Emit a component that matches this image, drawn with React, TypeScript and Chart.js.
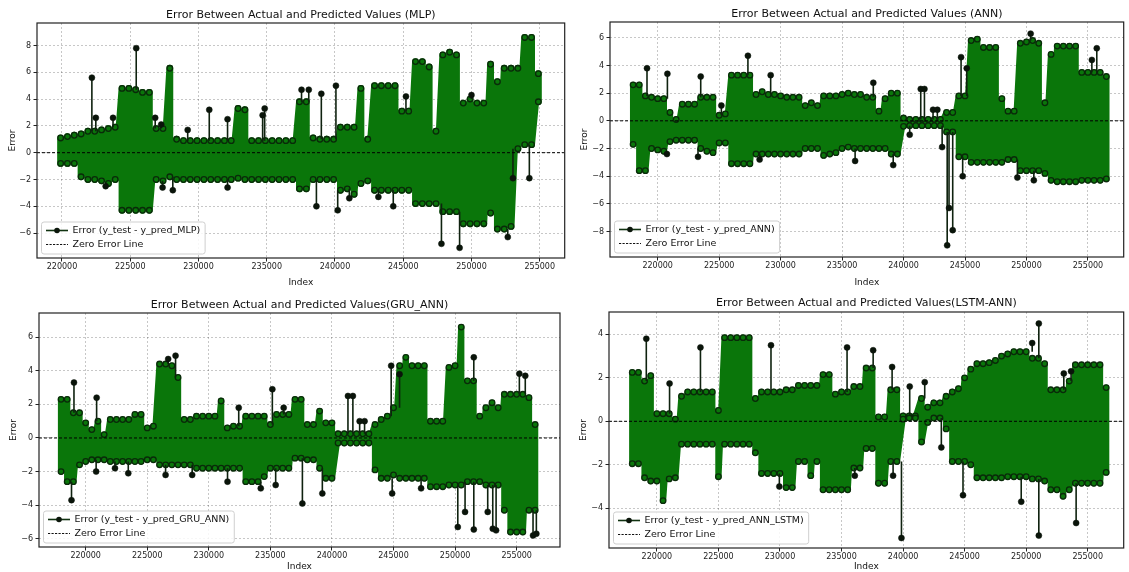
import React, { useEffect, useRef } from 'react';
import { Chart, registerables } from 'chart.js';

Chart.register(...registerables);

const FONT = "'DejaVu Sans', 'Liberation Sans', Arial, sans-serif";

// ---------- tick labels ----------
const X_TICKS = [220000, 225000, 230000, 235000, 240000, 245000, 250000, 255000];
const MLP_Y_TICKS = [-6, -4, -2, 0, 2, 4, 6, 8];
const ANN_Y_TICKS = [-8, -6, -4, -2, 0, 2, 4, 6];
const GRU_Y_TICKS = [-6, -4, -2, 0, 2, 4, 6];
const LSTM_Y_TICKS = [-4, -2, 0, 2, 4];

// index spacing between the sampled columns of every series
const COLUMN_STEP = 500;

// ---------- MLP (columns from index 219900) ----------
const MLP_START = 219900;
const MLP_HI = [
  1.1, 1.2, 1.3, 1.4, 1.6, 1.6, 1.7, 1.8, 1.9, 4.8,
  4.8, 4.7, 4.5, 4.5, 1.8, 1.8, 6.3, 1.0, 0.9, 0.9,
  0.9, 0.9, 0.9, 0.9, 0.9, 0.9, 3.3, 3.2, 0.9, 0.9,
  0.9, 0.9, 0.9, 0.9, 0.9, 3.8, 3.8, 1.1, 1.0, 1.0,
  1.0, 1.9, 1.9, 1.9, 4.8, 1.0, 5.0, 5.0, 5.0, 5.0,
  3.1, 3.1, 6.8, 6.8, 6.4, 1.6, 7.3, 7.5, 7.3, 3.7,
  4.0, 3.7, 3.7, 6.6, 5.3, 6.3, 6.3, 6.3, 8.6, 8.6, 5.9,
];
const MLP_LO = [
  -0.8, -0.8, -0.8, -1.8, -2.0, -2.0, -2.1, -2.3, -2.0, -4.3,
  -4.3, -4.3, -4.3, -4.3, -2.0, -2.1, -1.8, -2.0, -2.0, -2.0,
  -2.0, -2.0, -2.0, -2.0, -2.0, -2.0, -1.9, -2.0, -2.0, -2.0,
  -2.0, -2.0, -2.0, -2.0, -2.0, -2.7, -2.7, -2.0, -2.0, -2.0,
  -2.0, -2.8, -2.7, -3.1, -2.3, -2.1, -2.8, -2.8, -2.8, -2.8,
  -2.8, -2.8, -3.8, -3.8, -3.8, -3.8, -4.4, -4.4, -4.4, -5.3,
  -5.3, -5.3, -5.3, -4.5, -5.7, -5.7, -5.5, 0.3, 0.6, 0.6, 3.8,
];
const MLP_SPIKE_IDX = [222190, 222480, 223200, 223740, 225440, 226830, 227270, 227370, 228120, 229210, 230790, 232130, 232130, 234700, 234850, 237550, 238080, 238640, 239000, 240070, 240200, 241050, 243180, 244270, 245200, 247800, 249130, 250000, 252660, 253040, 254240];
const MLP_SPIKE_BASE = [1.6, 1.6, -2.2, 1.9, 4.7, 1.8, 1.8, -2.1, -1.8, 0.9, 0.9, 0.9, -2.0, 0.9, 0.9, 3.8, 3.8, -2.0, 1.0, 1.0, -2.8, -2.7, -2.8, -2.8, 3.1, -3.8, -4.4, 4.0, -5.7, 0.3, 0.6];
const MLP_SPIKE_TIP = [5.6, 2.6, -2.5, 2.6, 7.8, 2.6, 2.1, -2.6, -2.8, 1.7, 3.2, 2.5, -2.6, 2.8, 3.3, 4.7, 4.7, -4.0, 4.4, 5.0, -4.3, -3.4, -3.3, -4.0, 4.2, -6.8, -7.1, 4.3, -6.3, -1.9, -1.9];

// ---------- ANN (columns from index 218000) ----------
const ANN_START = 218000;
const ANN_HI = [
  2.6, 2.6, 1.8, 1.7, 1.6, 1.6, 0.6, 0.1, 1.2, 1.2,
  1.2, 1.7, 1.7, 1.7, 0.4, 0.5, 3.3, 3.3, 3.3, 3.3,
  1.9, 2.1, 1.9, 1.9, 1.8, 1.7, 1.7, 1.7, 1.1, 1.3,
  1.1, 1.8, 1.8, 1.8, 1.9, 2.0, 1.9, 1.9, 1.7, 1.7,
  0.7, 1.6, 2.0, 2.0, 0.2, 0.1, 0.1, 0.1, 0.1, 0.1,
  0.1, 0.6, 0.6, 1.8, 1.8, 5.8, 5.9, 5.3, 5.3, 5.3,
  1.6, 0.7, 0.7, 5.6, 5.7, 5.8, 5.6, 1.3, 4.8, 5.4,
  5.4, 5.4, 5.4, 3.5, 3.5, 3.5, 3.5, 3.2,
];
const ANN_LO = [
  -1.7, -3.6, -3.6, -2.0, -2.1, -2.2, -1.5, -1.4, -1.4, -1.4,
  -1.4, -2.0, -2.2, -2.3, -1.6, -1.6, -3.1, -3.1, -3.1, -3.1,
  -2.4, -2.4, -2.4, -2.4, -2.4, -2.4, -2.4, -2.4, -2.0, -2.0,
  -2.0, -2.5, -2.4, -2.3, -2.0, -1.9, -2.0, -2.0, -2.0, -2.0,
  -2.0, -2.0, -2.4, -2.4, -0.4, -0.35, -0.35, -0.35, -0.35, -0.35,
  -0.35, -0.8, -0.8, -2.6, -2.6, -3.0, -3.0, -3.0, -3.0, -3.0,
  -3.0, -2.8, -2.8, -3.6, -3.6, -3.6, -3.6, -3.8, -4.3, -4.4,
  -4.4, -4.4, -4.4, -4.3, -4.3, -4.3, -4.3, -4.2,
];
const ANN_SPIKE_IDX = [219130, 220750, 220790, 223280, 223500, 225180, 227340, 228290, 229190, 236060, 237540, 239160, 240500, 241400, 241700, 242400, 242750, 243140, 243550, 243700, 244000, 244680, 244810, 245140, 249260, 250340, 250600, 255320, 255720];
const ANN_SPIKE_BASE = [1.8, -2.2, 1.6, -2.0, 1.7, 0.4, 3.3, -2.4, 1.9, -2.0, 1.7, -2.4, -0.35, 0.1, 0.1, 0.1, 0.1, -0.35, -0.8, -0.8, -0.8, 1.8, -2.6, 1.8, -2.8, 5.8, -3.6, 3.5, 3.5];
const ANN_SPIKE_TIP = [3.8, -2.4, 3.4, -2.6, 3.2, 1.1, 4.7, -2.8, 3.3, -2.9, 2.75, -3.2, -1.0, 2.3, 2.3, 0.8, 0.8, -1.9, -9.0, -6.3, -7.9, 4.6, -4.0, 3.8, -4.1, 6.3, -4.3, 4.4, 5.24];

// ---------- GRU_ANN (columns from index 218000) ----------
const GRU_START = 218000;
const GRU_HI = [
  2.3, 2.3, 1.5, 1.5, 0.9, 0.5, 1.0, 0.2, 1.1, 1.1,
  1.1, 1.1, 1.4, 1.4, 0.6, 0.7, 4.4, 4.4, 4.3, 3.6,
  1.1, 1.1, 1.3, 1.3, 1.3, 1.3, 2.2, 0.6, 0.7, 0.7,
  1.3, 1.3, 1.3, 1.3, 0.8, 1.4, 1.4, 1.4, 2.3, 2.3,
  0.8, 0.8, 1.6, 0.9, 0.9, 0.25, 0.25, 0.25, 0.25, 0.25,
  0.25, 0.8, 1.1, 1.3, 1.8, 4.3, 4.8, 4.3, 4.3, 4.3,
  1.0, 1.0, 1.0, 4.2, 4.3, 6.6, 3.4, 3.4, 1.3, 1.8,
  2.1, 1.8, 2.6, 2.6, 2.6, 2.6, 2.4, 0.8,
];
const GRU_LO = [
  -2.0, -2.6, -2.6, -1.6, -1.4, -1.3, -1.3, -1.3, -1.4, -1.4,
  -1.4, -1.4, -1.4, -1.4, -1.3, -1.3, -1.6, -1.6, -1.6, -1.6,
  -1.6, -1.6, -1.8, -1.8, -1.8, -1.8, -1.8, -1.8, -1.8, -1.8,
  -2.6, -2.6, -2.6, -2.3, -1.8, -1.8, -1.8, -1.8, -1.2, -1.2,
  -1.3, -1.3, -1.8, -2.4, -2.4, -0.3, -0.3, -0.3, -0.3, -0.3,
  -0.3, -1.9, -2.4, -2.4, -2.2, -2.4, -2.4, -2.4, -2.4, -2.4,
  -2.9, -2.9, -2.9, -2.8, -2.8, -2.8, -2.6, -2.6, -2.6, -2.8,
  -2.8, -2.8, -4.3, -5.6, -5.6, -5.6, -4.3, -4.3,
];
const GRU_SPIKE_IDX = [218850, 219050, 220850, 220890, 222380, 223460, 226490, 226700, 227300, 228650, 231520, 232430, 234220, 235160, 235430, 236080, 237600, 239220, 241300, 241700, 242250, 242650, 244810, 244890, 245490, 247240, 250220, 250810, 251520, 251520, 252650, 253060, 253330, 255220, 255700, 256330, 256600];
const GRU_SPIKE_BASE = [-2.6, 1.5, -1.3, 1.0, -1.4, -1.4, -1.6, 4.4, 3.6, -1.6, -1.8, 0.7, -2.6, 0.8, -1.8, 1.4, -1.2, -1.8, 0.25, 0.25, 0.25, 0.25, 1.3, -2.4, 1.8, -2.4, -2.8, -2.6, 3.4, -2.6, -2.8, -2.8, -2.8, 2.6, 2.6, -4.3, -4.3];
const GRU_SPIKE_TIP = [-3.7, 3.3, -2.0, 2.4, -1.8, -2.1, -2.2, 4.7, 4.9, -2.2, -2.6, 1.8, -3.0, 2.9, -2.8, 1.8, -3.9, -3.3, 2.5, 2.5, 1.0, 1.0, 4.3, -3.3, 3.8, -3.0, -5.3, -4.4, 4.8, -5.45, -4.4, -5.4, -5.5, 3.83, 3.7, -5.8, -5.7];

// ---------- LSTM-ANN (columns from index 218000) ----------
const LSTM_START = 218000;
const LSTM_HI = [
  2.25, 2.25, 1.85, 2.1, 0.35, 0.35, 0.35, 0.1, 1.15, 1.35,
  1.35, 1.35, 1.35, 1.35, 0.5, 3.85, 3.85, 3.85, 3.85, 3.85,
  1.05, 1.35, 1.35, 1.35, 1.35, 1.45, 1.45, 1.65, 1.65, 1.65,
  1.65, 2.15, 2.15, 1.25, 1.35, 1.35, 1.6, 1.6, 2.45, 2.45,
  0.2, 0.2, 1.45, 1.45, 0.25, 0.25, 0.25, 1.05, 0.65, 0.85,
  0.85, 1.15, 1.35, 1.5, 2.0, 2.4, 2.65, 2.65, 2.7, 2.8,
  3.0, 3.1, 3.2, 3.2, 3.2, 2.9, 2.9, 2.65, 1.45, 1.45,
  1.45, 1.85, 2.6, 2.6, 2.6, 2.6, 2.6, 1.55,
];
const LSTM_LO = [
  -1.95, -1.95, -2.6, -2.75, -2.75, -3.65, -2.65, -2.6, -1.05, -1.05,
  -1.05, -1.05, -1.05, -1.05, -2.55, -1.05, -1.05, -1.05, -1.05, -1.05,
  -1.45, -2.4, -2.4, -2.4, -2.4, -3.05, -3.05, -1.85, -1.85, -2.5,
  -1.85, -3.15, -3.15, -3.15, -3.15, -3.15, -2.15, -2.15, -1.25, -1.25,
  -2.85, -2.85, -1.85, -1.85, 0.1, 0.15, 0.15, -0.95, -0.05, 0.15,
  0.15, -0.35, -1.85, -1.85, -1.85, -2.0, -2.6, -2.6, -2.6, -2.6,
  -2.6, -2.55, -2.55, -2.55, -2.55, -2.65, -2.65, -2.75, -3.15, -3.15,
  -3.45, -3.15, -2.85, -2.85, -2.85, -2.85, -2.85, -2.35,
];
const LSTM_SPIKE_IDX = [219140, 221030, 223540, 229270, 229950, 235450, 236080, 237570, 239110, 239190, 239870, 240540, 241760, 243110, 244870, 249600, 250490, 251030, 251030, 253060, 253650, 254060];
const LSTM_SPIKE_BASE = [1.85, 0.35, 1.35, 1.35, -2.4, 1.35, -2.15, 2.45, 1.45, -1.85, -1.85, 0.25, 1.05, 0.15, -1.85, -2.55, 3.2, 2.9, -2.65, 1.45, 1.85, -2.85];
const LSTM_SPIKE_TIP = [3.8, 1.74, 3.4, 3.5, -3.0, 3.4, -2.5, 3.27, 2.5, -2.5, -5.37, 1.6, 1.8, -1.2, -3.4, -3.7, 3.6, 4.5, -5.26, 2.2, 2.3, -4.68];

// ---------- styles ----------
const BAND_GREEN = '#0a760a';
const BAND_EDGE = 'rgba(10,36,10,0.92)';
const SPIKE_LINE = '#0f220f';
const SPIKE_MARK = '#0a140a';

type Box = { l: number; t: number; r: number; b: number };
type Panel = {
  title: string;
  legendLabel: string;
  start: number;
  hi: number[];
  lo: number[];
  spikeIdx: number[];
  spikeBase: number[];
  spikeTip: number[];
  yTicks: number[];
  xMin: number;
  xMax: number;
  yMin: number;
  yMax: number;
  canvas: { left: number; top: number; w: number; h: number };
  plot: Box;
  titleY: number;
  xTitleY: number;
  yTitleX: number;
  lineW: number;
};

const PANELS: Panel[] = [
  {
    title: 'Error Between Actual and Predicted Values (MLP)',
    legendLabel: 'Error (y_test - y_pred_MLP)',
    start: MLP_START, hi: MLP_HI, lo: MLP_LO,
    spikeIdx: MLP_SPIKE_IDX, spikeBase: MLP_SPIKE_BASE, spikeTip: MLP_SPIKE_TIP,
    yTicks: MLP_Y_TICKS,
    xMin: 218170, xMax: 256830, yMin: -7.86, yMax: 9.68,
    canvas: { left: 0, top: 0, w: 570, h: 288 },
    plot: { l: 37, t: 23, r: 565, b: 258 },
    titleY: 15, xTitleY: 279, yTitleX: 13, lineW: 6.9,
  },
  {
    title: 'Error Between Actual and Predicted Values (ANN)',
    legendLabel: 'Error (y_test - y_pred_ANN)',
    start: ANN_START, hi: ANN_HI, lo: ANN_LO,
    spikeIdx: ANN_SPIKE_IDX, spikeBase: ANN_SPIKE_BASE, spikeTip: ANN_SPIKE_TIP,
    yTicks: ANN_Y_TICKS,
    xMin: 216120, xMax: 257910, yMin: -9.84, yMax: 7.14,
    canvas: { left: 572, top: 0, w: 557, h: 288 },
    plot: { l: 610, t: 22, r: 1127, b: 257 },
    titleY: 14, xTitleY: 277, yTitleX: 585, lineW: 6.3,
  },
  {
    title: 'Error Between Actual and Predicted Values(GRU_ANN)',
    legendLabel: 'Error (y_test - y_pred_GRU_ANN)',
    start: GRU_START, hi: GRU_HI, lo: GRU_LO,
    spikeIdx: GRU_SPIKE_IDX, spikeBase: GRU_SPIKE_BASE, spikeTip: GRU_SPIKE_TIP,
    yTicks: GRU_Y_TICKS,
    xMin: 216210, xMax: 258520, yMin: -6.49, yMax: 7.44,
    canvas: { left: 0, top: 288, w: 570, h: 284 },
    plot: { l: 39, t: 313, r: 560, b: 547 },
    titleY: 305, xTitleY: 566.5, yTitleX: 14, lineW: 6.3,
  },
  {
    title: 'Error Between Actual and Predicted Values(LSTM-ANN)',
    legendLabel: 'Error (y_test - y_pred_ANN_LSTM)',
    start: LSTM_START, hi: LSTM_HI, lo: LSTM_LO,
    spikeIdx: LSTM_SPIKE_IDX, spikeBase: LSTM_SPIKE_BASE, spikeTip: LSTM_SPIKE_TIP,
    yTicks: LSTM_Y_TICKS,
    xMin: 216110, xMax: 257925, yMin: -5.83, yMax: 5.03,
    canvas: { left: 572, top: 288, w: 557, h: 284 },
    plot: { l: 609, t: 312, r: 1128, b: 548 },
    titleY: 303, xTitleY: 568, yTitleX: 584, lineW: 6.3,
  },
];

function bandPoints(p: Panel) {
  const pts: { x: number; y: number }[] = [];
  for (let i = 0; i < p.hi.length; i++) {
    const x = p.start + i * COLUMN_STEP;
    pts.push({ x, y: p.hi[i] }, { x, y: p.lo[i] });
  }
  return pts;
}

function spikePoints(p: Panel) {
  const pts: { x: number; y: number | null }[] = [];
  p.spikeIdx.forEach((x, i) => {
    pts.push({ x, y: p.spikeBase[i] }, { x, y: p.spikeTip[i] }, { x, y: null });
  });
  return pts;
}

const framePlugin = {
  id: 'mplFrame',
  afterDatasetsDraw(chart: any) {
    const { ctx, chartArea: a } = chart;
    ctx.save();
    ctx.strokeStyle = '#222';
    ctx.lineWidth = 1.2;
    ctx.strokeRect(a.left, a.top, a.right - a.left, a.bottom - a.top);
    ctx.restore();
  },
};

const legendPlugin = {
  id: 'mplLegend',
  afterDraw(chart: any, _args: any, opts: any) {
    const { ctx, chartArea: a } = chart;
    const labels = [opts.label, 'Zero Error Line'];
    ctx.save();
    ctx.font = `9.5px ${FONT}`;
    const tw = Math.max(...labels.map((l: string) => ctx.measureText(l).width));
    const w = 31 + tw + 5;
    const h = 32;
    const x0 = a.left + 4.5;
    const y0 = a.bottom - 4 - h;
    ctx.beginPath();
    if (ctx.roundRect) ctx.roundRect(x0, y0, w, h, 2.5);
    else ctx.rect(x0, y0, w, h);
    ctx.fillStyle = 'rgba(255,255,255,0.85)';
    ctx.fill();
    ctx.strokeStyle = '#cfcfcf';
    ctx.lineWidth = 1;
    ctx.stroke();
    const r1 = y0 + 8.5;
    ctx.beginPath();
    ctx.moveTo(x0 + 4.5, r1);
    ctx.lineTo(x0 + 26.5, r1);
    ctx.strokeStyle = '#113311';
    ctx.lineWidth = 1.6;
    ctx.stroke();
    ctx.beginPath();
    ctx.arc(x0 + 15.5, r1, 2.8, 0, Math.PI * 2);
    ctx.fillStyle = '#0b160b';
    ctx.fill();
    const r2 = y0 + 22.5;
    ctx.beginPath();
    ctx.setLineDash([2.2, 1.3]);
    ctx.moveTo(x0 + 4.5, r2);
    ctx.lineTo(x0 + 26.5, r2);
    ctx.strokeStyle = '#111';
    ctx.lineWidth = 1;
    ctx.stroke();
    ctx.setLineDash([]);
    ctx.fillStyle = '#111';
    ctx.textBaseline = 'middle';
    ctx.textAlign = 'left';
    ctx.fillText(labels[0], x0 + 31, r1 + 0.5);
    ctx.fillText(labels[1], x0 + 31, r2 + 0.5);
    ctx.restore();
  },
};

function buildConfig(p: Panel): any {
  const c = p.canvas;
  const yW = p.plot.l - c.left;
  const padR = c.left + c.w - p.plot.r;
  const xH = c.top + c.h - p.plot.b;
  const titlePadTop = p.titleY - c.top - 6.6;
  const titlePadBottom = p.plot.t - c.top - titlePadTop - 13.2;
  const xTitlePad = Math.max(0, c.top + c.h - p.xTitleY - 5.4);
  const yTitlePad = Math.max(0, p.yTitleX - c.left - 5.4);

  const gridCommon = {
    color: 'rgba(0,0,0,0.28)',
    lineWidth: 0.8,
    drawTicks: true,
    tickLength: 3.5,
    tickColor: '#222',
    tickWidth: 1,
    tickBorderDash: [],
  };

  return {
    type: 'line',
    data: {
      datasets: [
        {
          label: 'Zero Error Line',
          data: [{ x: p.xMin, y: 0 }, { x: p.xMax, y: 0 }],
          borderColor: '#000',
          borderWidth: 1,
          borderDash: [3, 2],
          pointRadius: 0,
          order: 1,
        },
        {
          label: 'spikes',
          data: spikePoints(p),
          borderColor: SPIKE_LINE,
          borderWidth: 1.6,
          spanGaps: false,
          pointRadius: (ctx: any) => (ctx.dataIndex % 3 === 1 ? 3 : 0),
          pointBackgroundColor: SPIKE_MARK,
          pointBorderColor: SPIKE_MARK,
          pointBorderWidth: 0.5,
          order: 2,
        },
        {
          label: p.legendLabel,
          data: bandPoints(p),
          borderColor: BAND_GREEN,
          borderWidth: p.lineW,
          borderJoinStyle: 'round',
          borderCapStyle: 'round',
          pointRadius: 2.8,
          pointBackgroundColor: BAND_GREEN,
          pointBorderColor: BAND_EDGE,
          pointBorderWidth: 1.3,
          order: 3,
        },
      ],
    },
    options: {
      animation: false,
      responsive: false,
      maintainAspectRatio: false,
      devicePixelRatio: 1,
      events: [],
      layout: { padding: { left: 0, top: 0, right: padR, bottom: 0 } },
      elements: { line: { tension: 0, fill: false } },
      plugins: {
        legend: { display: false },
        tooltip: { enabled: false },
        title: {
          display: true,
          text: p.title,
          fullSize: false,
          color: '#111',
          font: { family: FONT, size: 11, weight: 'normal', lineHeight: 1.2 },
          padding: { top: titlePadTop, bottom: titlePadBottom },
        },
        mplLegend: { label: p.legendLabel },
      },
      scales: {
        x: {
          type: 'linear',
          min: p.xMin,
          max: p.xMax,
          afterBuildTicks: (s: any) => {
            s.ticks = X_TICKS.map((v) => ({ value: v }));
          },
          afterFit: (s: any) => {
            s.height = xH;
          },
          ticks: {
            callback: (v: any) => String(v),
            font: { family: FONT, size: 8 },
            color: '#222',
            maxRotation: 0,
            autoSkip: false,
            padding: 1,
          },
          grid: gridCommon,
          border: { display: false, dash: [2, 2] },
          title: {
            display: true,
            text: 'Index',
            color: '#111',
            font: { family: FONT, size: 9, lineHeight: 1.2 },
            padding: { top: xTitlePad, bottom: 0 },
          },
        },
        y: {
          type: 'linear',
          min: p.yMin,
          max: p.yMax,
          afterBuildTicks: (s: any) => {
            s.ticks = p.yTicks.map((v) => ({ value: v }));
          },
          afterFit: (s: any) => {
            s.width = yW;
          },
          ticks: {
            callback: (v: any) => (v < 0 ? '\u2212' + Math.abs(v) : String(v)),
            font: { family: FONT, size: 8 },
            color: '#222',
            autoSkip: false,
            padding: 2.5,
          },
          grid: gridCommon,
          border: { display: false, dash: [2, 2] },
          title: {
            display: true,
            text: 'Error',
            color: '#111',
            font: { family: FONT, size: 9, lineHeight: 1.2 },
            padding: { top: yTitlePad, bottom: 0 },
          },
        },
      },
    },
    plugins: [framePlugin, legendPlugin],
  };
}

function ErrorPanel({ cfg }: { cfg: Panel }) {
  const ref = useRef<HTMLCanvasElement | null>(null);
  useEffect(() => {
    if (!ref.current) return;
    const chart = new Chart(ref.current, buildConfig(cfg));
    return () => chart.destroy();
  }, [cfg]);
  const c = cfg.canvas;
  return (
    <canvas
      ref={ref}
      width={c.w}
      height={c.h}
      style={{ position: 'absolute', left: c.left, top: c.top, width: c.w, height: c.h, display: 'block' }}
    />
  );
}

export default function App() {
  return (
    <div
      style={{
        position: 'absolute',
        left: 0,
        top: 0,
        width: 1129,
        height: 572,
        overflow: 'hidden',
        background: '#fff',
      }}
    >
      {PANELS.map((p, i) => (
        <ErrorPanel key={i} cfg={p} />
      ))}
    </div>
  );
}
